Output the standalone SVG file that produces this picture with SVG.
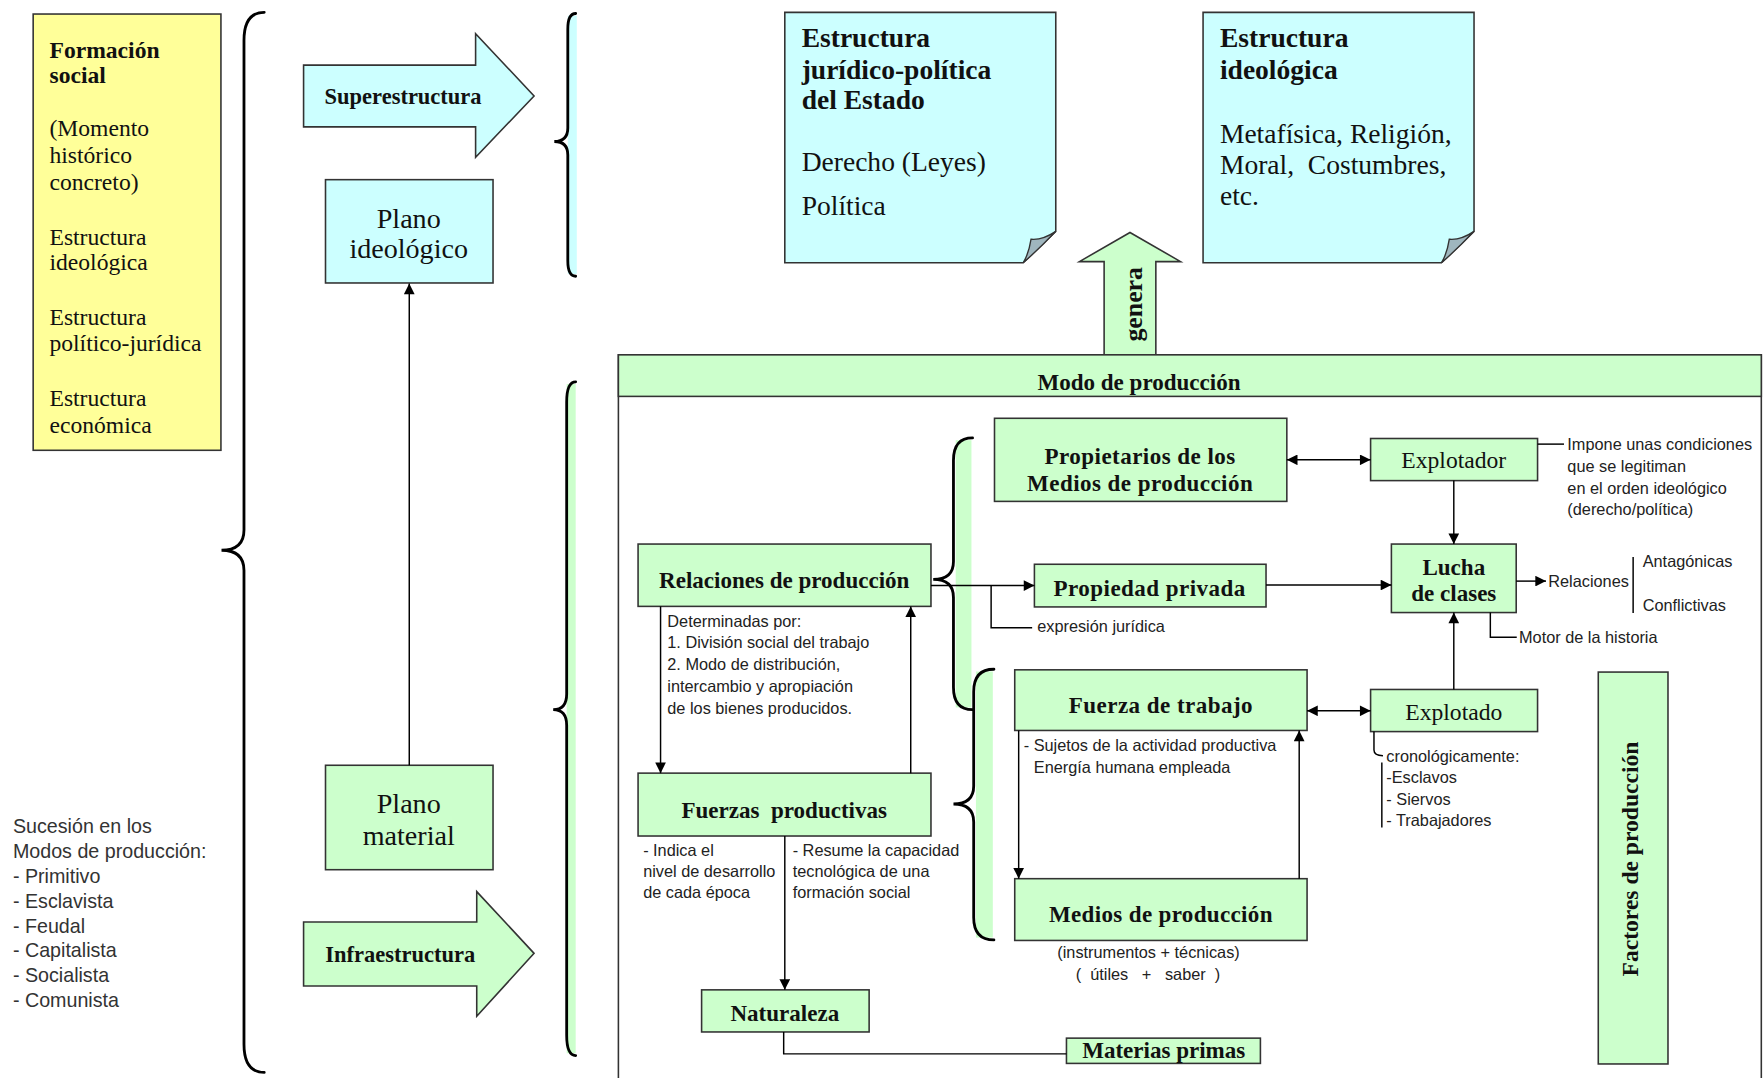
<svg xmlns="http://www.w3.org/2000/svg" width="1763" height="1078" viewBox="0 0 1763 1078">
<style>
.g{fill:#CCFFCC;stroke:#333;stroke-width:1.4}
.c{fill:#CCFFFF;stroke:#333;stroke-width:1.4}
.y{fill:#FFFF99;stroke:#333;stroke-width:1.4}
.fold{fill:#9FB6BE;stroke:#333;stroke-width:1.2}
.brace{fill:none;stroke:#000;stroke-width:2.5;stroke-linecap:round}
.bandg{fill:#CCFFCC}
.bandc{fill:#CCFFFF}
.ln{fill:none;stroke:#000;stroke-width:1.3}
.s{font-family:"Liberation Serif","Times New Roman",serif;fill:#111}
.b{font-weight:bold}
.m{text-anchor:middle}
.f{font-family:"Liberation Sans",Arial,sans-serif;fill:#222;font-size:14.5px}
.l{font-family:"Liberation Sans",Arial,sans-serif;fill:#333;font-size:17.5px}
</style>
<defs>
<marker id="ah" viewBox="0 0 10 10" refX="10" refY="5" markerWidth="10.5" markerHeight="9.5" orient="auto-start-reverse" markerUnits="userSpaceOnUse"><path d="M0,0 L10,5 L0,10 Z" fill="#000"/></marker>
</defs>
<rect width="1763" height="1078" fill="#fff"/>
<g transform="scale(1.12436,1.12292)">

<g id="formacion-social">
<rect class="y" x="29.5" y="12.5" width="167" height="388.5"/>
<g class="s" font-size="21">
<text class="b" x="44" y="52">Formación</text>
<text class="b" x="44" y="74">social</text>
<text x="44" y="121.5">(Momento</text>
<text x="44" y="145">histórico</text>
<text x="44" y="169">concreto)</text>
<text x="44" y="218">Estructura</text>
<text x="44" y="240.5">ideológica</text>
<text x="44" y="289">Estructura</text>
<text x="44" y="313">político-jurídica</text>
<text x="44" y="362">Estructura</text>
<text x="44" y="385.5">económica</text>
</g>
</g>

<g id="sucesion">
<text class="l" x="11.5" y="742">Sucesión en los</text>
<text class="l" x="11.5" y="764">Modos de producción:</text>
<text class="l" x="11.5" y="786.5">- Primitivo</text>
<text class="l" x="11.5" y="808.5">- Esclavista</text>
<text class="l" x="11.5" y="830.5">- Feudal</text>
<text class="l" x="11.5" y="852.5">- Capitalista</text>
<text class="l" x="11.5" y="874.5">- Socialista</text>
<text class="l" x="11.5" y="896.5">- Comunista</text>
</g>

<g id="braces">
<rect class="bandc" x="505" y="14" width="8" height="230"/>
<rect class="bandg" x="504" y="342" width="8" height="596"/>
<rect class="bandg" x="850" y="392" width="14" height="238"/>
<rect class="bandg" x="868" y="598" width="15" height="237"/>
<path class="brace" d="M235,11 Q217,11 217,36 L217,472 Q217,490 197,490 Q217,490 217,508 L217,930 Q217,955 235,955"/>
<path class="brace" d="M512,12 Q505,12 505,26 L505,114 Q505,126 493,126 Q505,126 505,138 L505,232 Q505,246 512,246"/>
<path class="brace" d="M512,340 Q504,340 504,358 L504,618 Q504,632 492,632 Q504,632 504,646 L504,922 Q504,940 512,940"/>
<path class="brace" d="M865,390 Q848,390 848,410 L848,500 Q848,516 830,516 Q848,516 848,532 L848,612 Q848,632 865,632"/>
<path class="brace" d="M884,596 Q866,596 866,616 L866,700 Q866,716 848,716 Q866,716 866,732 L866,817 Q866,837 884,837"/>
</g>

<g id="superestructura">
<polygon class="c" points="270,58 423,58 423,30 475,85.5 423,140 423,113 270,113"/>
<text class="s b m" font-size="20" x="358.5" y="92.5">Superestructura</text>
</g>

<g id="infraestructura">
<polygon class="g" points="270,821 424,821 424,794 475,849 424,905 424,878 270,878"/>
<text class="s b m" font-size="20" x="356" y="857">Infraestructura</text>
</g>

<g id="plano-ideologico">
<rect class="c" x="289.5" y="160" width="149" height="92"/>
<text class="s m" font-size="25" x="363.5" y="203">Plano</text>
<text class="s m" font-size="25" x="363.5" y="230">ideológico</text>
</g>

<g id="plano-material">
<rect class="g" x="289.5" y="681.5" width="149" height="93"/>
<text class="s m" font-size="25" x="363.5" y="724">Plano</text>
<text class="s m" font-size="25" x="363.5" y="752.5">material</text>
</g>

<g id="estructura-juridico-politica">
<path class="c" d="M698,11 H939 V206 L910,234 H698 Z"/>
<path class="fold" d="M939,206 Q927,214 917,213 Q915,226 910,234 Q925,221 939,206 Z"/>
<g class="s" font-size="24.5">
<text class="b" x="713" y="41.5">Estructura</text>
<text class="b" x="713" y="70">jurídico-política</text>
<text class="b" x="713" y="97.5">del Estado</text>
<text x="713" y="152">Derecho (Leyes)</text>
<text x="713" y="191.5">Política</text>
</g>
</g>

<g id="estructura-ideologica">
<path class="c" d="M1070,11 H1311 V206 L1282,234 H1070 Z"/>
<path class="fold" d="M1311,206 Q1299,214 1289,213 Q1287,226 1282,234 Q1297,221 1311,206 Z"/>
<g class="s" font-size="24.5">
<text class="b" x="1085" y="41.5">Estructura</text>
<text class="b" x="1085" y="70">ideológica</text>
<text x="1085" y="127">Metafísica, Religión,</text>
<text x="1085" y="155" xml:space="preserve">Moral,  Costumbres,</text>
<text x="1085" y="182.5">etc.</text>
</g>
</g>

<g id="genera">
<polygon class="g" points="982,316 982,233 960,233 1005,207 1050,233 1028,233 1028,316"/>
<text class="s b m" font-size="23" transform="translate(1015.5,271) rotate(-90)">genera</text>
</g>

<g id="modo-de-produccion">
<rect x="550" y="316" width="1016.5" height="700" fill="none" stroke="#333" stroke-width="1.4"/>
<rect class="g" x="550" y="316" width="1016.5" height="37"/>
<text class="s b m" font-size="20.5" x="1013" y="347.5">Modo de producción</text>
</g>

<g id="relaciones-de-produccion">
<rect class="g" x="567.5" y="484.5" width="260.5" height="55.5"/>
<text class="s b m" font-size="20.5" x="697.5" y="523.5">Relaciones de producción</text>
<text class="f" x="593.5" y="558">Determinadas por:</text>
<text class="f" x="593.5" y="577.5">1. División social del trabajo</text>
<text class="f" x="593.5" y="597">2. Modo de distribución,</text>
<text class="f" x="593.5" y="616">intercambio y apropiación</text>
<text class="f" x="593.5" y="635.5">de los bienes producidos.</text>
</g>

<g id="fuerzas-productivas">
<rect class="g" x="567.5" y="688.5" width="260.5" height="56"/>
<text class="s b m" font-size="20.5" x="697.5" y="728.5" xml:space="preserve">Fuerzas  productivas</text>
<text class="f" x="572" y="762">- Indica el</text>
<text class="f" x="572" y="781">nivel de desarrollo</text>
<text class="f" x="572" y="800">de cada época</text>
<text class="f" x="705" y="762">- Resume la capacidad</text>
<text class="f" x="705" y="781">tecnológica de una</text>
<text class="f" x="705" y="800">formación social</text>
</g>

<g id="naturaleza">
<rect class="g" x="624" y="881.5" width="149" height="37.5"/>
<text class="s b m" font-size="20.5" x="698" y="909.5">Naturaleza</text>
</g>

<g id="materias-primas">
<rect class="g" x="948.5" y="924.5" width="172.5" height="22.5"/>
<text class="s b m" font-size="20.5" x="1035" y="942.5">Materias primas</text>
</g>

<g id="propietarios">
<rect class="g" x="884.5" y="372.5" width="260" height="74"/>
<text class="s b m" font-size="20.5" x="1014" y="413" letter-spacing="0.4">Propietarios de los</text>
<text class="s b m" font-size="20.5" x="1014" y="437" letter-spacing="0.4">Medios de producción</text>
</g>

<g id="propiedad-privada">
<rect class="g" x="920" y="502.5" width="206" height="38"/>
<text class="s b m" font-size="20.5" x="1022.5" y="531" letter-spacing="0.4">Propiedad privada</text>
<text class="f" x="922.5" y="562.5">expresión jurídica</text>
</g>

<g id="fuerza-de-trabajo">
<rect class="g" x="902.5" y="596.5" width="260" height="54"/>
<text class="s b m" font-size="20.5" x="1032.5" y="635" letter-spacing="0.4">Fuerza de trabajo</text>
<text class="f" x="910.5" y="669">- Sujetos de la actividad productiva</text>
<text class="f" x="919.5" y="688.5">Energía humana empleada</text>
</g>

<g id="medios-de-produccion">
<rect class="g" x="902.5" y="782.5" width="260" height="55"/>
<text class="s b m" font-size="20.5" x="1032.5" y="821" letter-spacing="0.3">Medios de producción</text>
<text class="f m" x="1021.5" y="853">(instrumentos + técnicas)</text>
<text class="f m" x="1021" y="872.5" xml:space="preserve">(  útiles   +   saber  )</text>
</g>

<g id="explotador">
<rect class="g" x="1219" y="390.5" width="148.5" height="37.5"/>
<text class="s m" font-size="21" x="1293" y="417">Explotador</text>
<text class="f" x="1394" y="400.5">Impone unas condiciones</text>
<text class="f" x="1394" y="420">que se legitiman</text>
<text class="f" x="1394" y="439.5">en el orden ideológico</text>
<text class="f" x="1394" y="459">(derecho/política)</text>
</g>

<g id="lucha-de-clases">
<rect class="g" x="1237.5" y="484.5" width="111" height="61"/>
<text class="s b m" font-size="20.5" x="1293" y="512.5">Lucha</text>
<text class="s b m" font-size="20.5" x="1293" y="535.5">de clases</text>
<text class="f" x="1377" y="523">Relaciones</text>
<text class="f" x="1461" y="504.5">Antagónicas</text>
<text class="f" x="1461" y="544.5">Conflictivas</text>
<text class="f" x="1351" y="572.5">Motor de la historia</text>
</g>

<g id="explotado">
<rect class="g" x="1219" y="614" width="148.5" height="37.5"/>
<text class="s m" font-size="21" x="1293" y="641">Explotado</text>
<text class="f" x="1233" y="678.5">cronológicamente:</text>
<text class="f" x="1233" y="697.5">-Esclavos</text>
<text class="f" x="1233" y="717">- Siervos</text>
<text class="f" x="1233" y="736">- Trabajadores</text>
</g>

<g id="factores-de-produccion">
<rect class="g" x="1421.5" y="598.5" width="62" height="349"/>
<text class="s b m" font-size="21" transform="translate(1457,765) rotate(-90)">Factores de producción</text>
</g>

<g id="connectors">
<line class="ln" x1="364" y1="681.5" x2="364" y2="252.5" marker-end="url(#ah)"/>
<line class="ln" x1="587.5" y1="540" x2="587.5" y2="688.5" marker-end="url(#ah)"/>
<line class="ln" x1="810" y1="688.5" x2="810" y2="540" marker-end="url(#ah)"/>
<line class="ln" x1="698" y1="744.5" x2="698" y2="881.5" marker-end="url(#ah)"/>
<polyline class="ln" points="697,919 697,938.5 948.5,938.5"/>
<line class="ln" x1="828" y1="521.5" x2="920" y2="521.5" marker-end="url(#ah)"/>
<polyline class="ln" points="881.5,521.5 881.5,559 918,559"/>
<line class="ln" x1="1126" y1="521" x2="1237.5" y2="521" marker-end="url(#ah)"/>
<line class="ln" x1="1144.5" y1="409.5" x2="1219" y2="409.5" marker-start="url(#ah)" marker-end="url(#ah)"/>
<line class="ln" x1="1293" y1="428" x2="1293" y2="484.5" marker-end="url(#ah)"/>
<line class="ln" x1="1293" y1="614" x2="1293" y2="545.5" marker-end="url(#ah)"/>
<line class="ln" x1="1162.5" y1="633" x2="1219" y2="633" marker-start="url(#ah)" marker-end="url(#ah)"/>
<line class="ln" x1="906" y1="650.5" x2="906" y2="782.5" marker-end="url(#ah)"/>
<line class="ln" x1="1155.5" y1="782.5" x2="1155.5" y2="650.5" marker-end="url(#ah)"/>
<line class="ln" x1="1348.5" y1="517.5" x2="1375" y2="517.5" marker-end="url(#ah)"/>
<line class="ln" x1="1367.5" y1="395.5" x2="1391" y2="395.5"/>
<polyline class="ln" points="1325.5,545.5 1325.5,567.5 1349,567.5"/>
<line class="ln" x1="1452.5" y1="496" x2="1452.5" y2="546"/>
<path class="ln" d="M1222,651.5 V668 Q1222,673 1230,673"/>
<line class="ln" x1="1229" y1="679" x2="1229" y2="737"/>
</g>

</g>
</svg>
